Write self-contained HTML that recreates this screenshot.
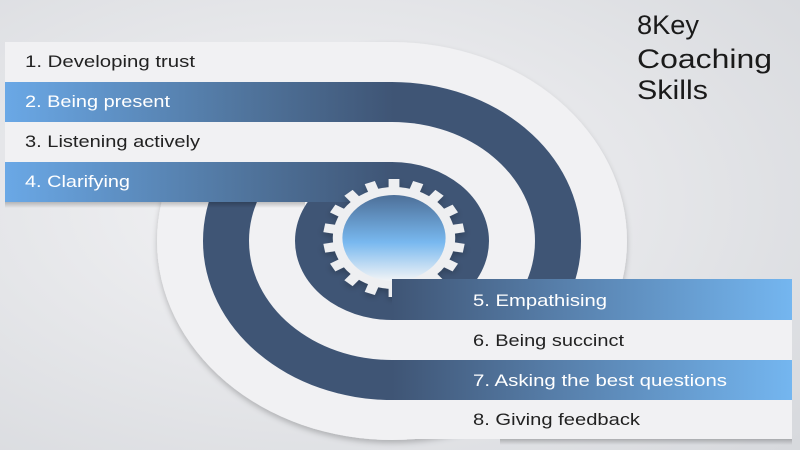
<!DOCTYPE html>
<html><head><meta charset="utf-8"><style>
html,body{margin:0;padding:0;width:800px;height:450px;overflow:hidden;background:#e6e7ea}
svg{display:block}
text{font-family:"Liberation Sans",sans-serif}
</style></head><body>
<svg width="800" height="450" viewBox="0 0 800 450" xmlns="http://www.w3.org/2000/svg">
<defs>
<radialGradient id="bg" cx="0.4" cy="0.45" r="0.8">
<stop offset="0" stop-color="#f4f4f6"/><stop offset="1" stop-color="#d7d9dd"/></radialGradient>
<linearGradient id="bl" x1="0" y1="0" x2="1" y2="0">
<stop offset="0" stop-color="#6aa8e6"/><stop offset="0.6" stop-color="#51769f"/><stop offset="1" stop-color="#3f5575"/></linearGradient>
<linearGradient id="br" x1="0" y1="0" x2="1" y2="0">
<stop offset="0" stop-color="#3f5575"/><stop offset="0.4" stop-color="#567da8"/><stop offset="1" stop-color="#74b6f0"/></linearGradient>
<linearGradient id="hole" x1="0" y1="0" x2="0" y2="1">
<stop offset="0" stop-color="#4d6f98"/><stop offset="0.55" stop-color="#78b8ef"/><stop offset="1" stop-color="#f2f4f6"/></linearGradient>
<linearGradient id="shd" x1="0" y1="0" x2="0" y2="1">
<stop offset="0" stop-color="#000" stop-opacity="0.22"/><stop offset="1" stop-color="#000" stop-opacity="0"/></linearGradient>
<filter id="sh" x="-10%" y="-20%" width="120%" height="150%"><feDropShadow dx="0" dy="3" stdDeviation="3" flood-color="#000" flood-opacity="0.22"/></filter>
</defs>
<rect width="800" height="450" fill="url(#bg)"/>
<g filter="url(#sh)">
<ellipse cx="392" cy="241" rx="235" ry="199" fill="#f1f1f3"/>
</g>
<ellipse cx="392" cy="241" rx="189" ry="159" fill="#3f5575"/>
<ellipse cx="392" cy="241" rx="143" ry="119" fill="#f1f1f3"/>
<ellipse cx="392" cy="241" rx="97" ry="79" fill="#3f5575"/>
<rect x="5" y="202" width="300" height="6" fill="url(#shd)"/>
<rect x="5" y="42" width="388" height="40" fill="#f1f1f3"/>
<rect x="5" y="82" width="388" height="40" fill="url(#bl)"/>
<rect x="5" y="122" width="388" height="40" fill="#f1f1f3"/>
<rect x="5" y="162" width="388" height="40" fill="url(#bl)"/>
<g transform="translate(394,238) scale(1.2,1)">
<g fill="#eeeff1" filter="url(#sh)">
<circle r="51"/>
<rect x="-4.5" y="-59" width="9" height="12"/>
<rect x="-4.5" y="-59" width="9" height="12" transform="rotate(20)"/>
<rect x="-4.5" y="-59" width="9" height="12" transform="rotate(40)"/>
<rect x="-4.5" y="-59" width="9" height="12" transform="rotate(60)"/>
<rect x="-4.5" y="-59" width="9" height="12" transform="rotate(80)"/>
<rect x="-4.5" y="-59" width="9" height="12" transform="rotate(100)"/>
<rect x="-4.5" y="-59" width="9" height="12" transform="rotate(120)"/>
<rect x="-4.5" y="-59" width="9" height="12" transform="rotate(140)"/>
<rect x="-4.5" y="-59" width="9" height="12" transform="rotate(160)"/>
<rect x="-4.5" y="-59" width="9" height="12" transform="rotate(180)"/>
<rect x="-4.5" y="-59" width="9" height="12" transform="rotate(200)"/>
<rect x="-4.5" y="-59" width="9" height="12" transform="rotate(220)"/>
<rect x="-4.5" y="-59" width="9" height="12" transform="rotate(240)"/>
<rect x="-4.5" y="-59" width="9" height="12" transform="rotate(260)"/>
<rect x="-4.5" y="-59" width="9" height="12" transform="rotate(280)"/>
<rect x="-4.5" y="-59" width="9" height="12" transform="rotate(300)"/>
<rect x="-4.5" y="-59" width="9" height="12" transform="rotate(320)"/>
<rect x="-4.5" y="-59" width="9" height="12" transform="rotate(340)"/>
</g>
<circle r="43" fill="url(#hole)"/>
</g>
<rect x="392" y="279" width="400" height="41" fill="url(#br)"/>
<rect x="392" y="320" width="400" height="40" fill="#f1f1f3"/>
<rect x="392" y="360" width="400" height="40" fill="url(#br)"/>
<rect x="392" y="400" width="400" height="39" fill="#f1f1f3"/>
<rect x="500" y="439" width="292" height="6" fill="url(#shd)"/>
<g font-size="16.5">
<text x="25" y="67" fill="#222" textLength="170" lengthAdjust="spacingAndGlyphs">1. Developing trust</text>
<text x="25" y="107" fill="#fff" textLength="145" lengthAdjust="spacingAndGlyphs">2. Being present</text>
<text x="25" y="147" fill="#222" textLength="175" lengthAdjust="spacingAndGlyphs">3. Listening actively</text>
<text x="25" y="187" fill="#fff" textLength="105" lengthAdjust="spacingAndGlyphs">4. Clarifying</text>
<text x="473" y="306" fill="#fff" textLength="134" lengthAdjust="spacingAndGlyphs">5. Empathising</text>
<text x="473" y="346" fill="#222" textLength="151" lengthAdjust="spacingAndGlyphs">6. Being succinct</text>
<text x="473" y="386" fill="#fff" textLength="254" lengthAdjust="spacingAndGlyphs">7. Asking the best questions</text>
<text x="473" y="425" fill="#222" textLength="167" lengthAdjust="spacingAndGlyphs">8. Giving feedback</text>
</g>
<g font-size="27" fill="#1a1a1a">
<text x="637" y="34" textLength="62" lengthAdjust="spacingAndGlyphs">8Key</text>
<text x="637" y="68" textLength="135" lengthAdjust="spacingAndGlyphs">Coaching</text>
<text x="637" y="99" textLength="71" lengthAdjust="spacingAndGlyphs">Skills</text>
</g>
</svg>
</body></html>
